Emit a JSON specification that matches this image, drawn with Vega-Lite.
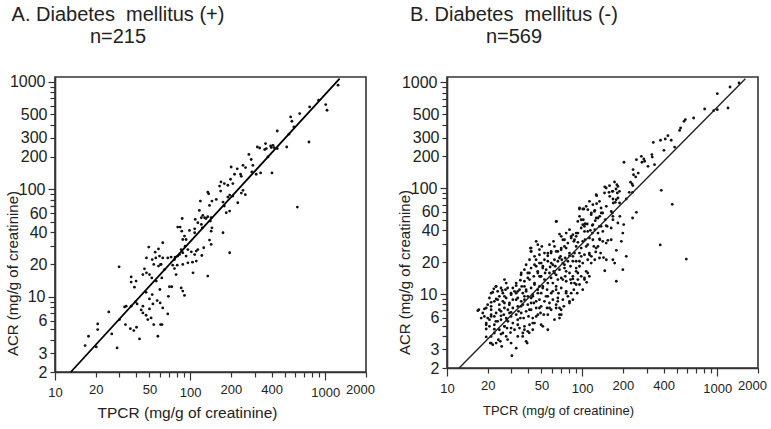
{
  "$schema": "https://vega.github.io/schema/vega-lite/v6.json",
  "background": "white",
  "padding": {"left": 4, "top": 3, "right": 5, "bottom": 3},
  "config": {
    "font": "Liberation Sans",
    "view": {"stroke": "#333", "strokeWidth": 1.6},
    "axis": {"grid": false, "domainColor": "#333", "domainWidth": 1.6, "tickColor": "#333", "tickWidth": 1.2, "labelColor": "#222", "titleColor": "#222", "titleFontWeight": "normal", "labelFlush": false, "labelOverlap": false}
  },
  "datasets": {
    "pos": [
      {"tpcr":49.4,"acr":29.0},{"tpcr":55.1,"acr":26.0},{"tpcr":58.3,"acr":27.9},{"tpcr":47.5,"acr":23.0},{"tpcr":52.4,"acr":22.2},{"tpcr":55.7,"acr":23.0},{"tpcr":59.3,"acr":23.9},{"tpcr":53.8,"acr":20.0},{"tpcr":58.3,"acr":19.3},{"tpcr":60.4,"acr":20.0},
      {"tpcr":29.8,"acr":19.0},{"tpcr":45.9,"acr":18.2},{"tpcr":47.5,"acr":16.7},{"tpcr":50.0,"acr":16.1},{"tpcr":52.0,"acr":15.0},{"tpcr":44.7,"acr":16.1},{"tpcr":36.6,"acr":15.3},{"tpcr":36.6,"acr":13.7},{"tpcr":39.8,"acr":14.0},{"tpcr":38.7,"acr":12.3},
      {"tpcr":56.1,"acr":14.0},{"tpcr":59.7,"acr":11.7},{"tpcr":47.2,"acr":11.0},{"tpcr":52.4,"acr":10.5},{"tpcr":50.0,"acr":9.56},{"tpcr":57.0,"acr":9.23},{"tpcr":60.0,"acr":8.78},{"tpcr":39.4,"acr":8.97},{"tpcr":40.5,"acr":8.59},{"tpcr":33.6,"acr":8.18},
      {"tpcr":32.7,"acr":8.06},{"tpcr":36.6,"acr":8.18},{"tpcr":44.7,"acr":8.18},{"tpcr":53.0,"acr":8.59},{"tpcr":50.0,"acr":7.72},{"tpcr":43.4,"acr":7.55},{"tpcr":51.4,"acr":6.37},{"tpcr":44.7,"acr":7.09},{"tpcr":47.2,"acr":6.74},{"tpcr":48.6,"acr":6.14},
      {"tpcr":25.0,"acr":7.24},{"tpcr":30.0,"acr":6.14},{"tpcr":20.7,"acr":5.60},{"tpcr":20.7,"acr":4.96},{"tpcr":33.2,"acr":5.52},{"tpcr":36.1,"acr":5.06},{"tpcr":38.3,"acr":4.85},{"tpcr":40.1,"acr":5.21},{"tpcr":53.8,"acr":5.52},{"tpcr":60.4,"acr":5.52},
      {"tpcr":26.3,"acr":4.52},{"tpcr":17.7,"acr":4.30},{"tpcr":42.2,"acr":4.06},{"tpcr":57.7,"acr":4.30},{"tpcr":16.7,"acr":3.52},{"tpcr":20.2,"acr":3.42},{"tpcr":28.8,"acr":3.35},
      {"tpcr":201,"acr":161},{"tpcr":223,"acr":155},{"tpcr":213,"acr":138},{"tpcr":236,"acr":138},{"tpcr":199,"acr":124},{"tpcr":169,"acr":117},{"tpcr":179,"acr":113},{"tpcr":165,"acr":107},{"tpcr":190,"acr":109},{"tpcr":207,"acr":113},
      {"tpcr":168,"acr":96.2},{"tpcr":196,"acr":88.3},{"tpcr":135,"acr":94.2},{"tpcr":137,"acr":90.9},{"tpcr":156,"acr":80.4},{"tpcr":119,"acr":77.6},{"tpcr":145,"acr":77.6},{"tpcr":190,"acr":84.6},{"tpcr":175,"acr":76.0},{"tpcr":207,"acr":86.4},
      {"tpcr":225,"acr":74.9},{"tpcr":179,"acr":69.8},{"tpcr":185,"acr":60.5},{"tpcr":196,"acr":62.7},{"tpcr":139,"acr":70.8},{"tpcr":117,"acr":63.6},{"tpcr":124,"acr":57.1},{"tpcr":121,"acr":54.3},{"tpcr":128,"acr":54.3},{"tpcr":131,"acr":53.5},
      {"tpcr":135,"acr":55.5},{"tpcr":143,"acr":54.3},{"tpcr":141,"acr":50.6},{"tpcr":109,"acr":52.4},{"tpcr":87.3,"acr":53.5},{"tpcr":80.9,"acr":44.5},{"tpcr":84.3,"acr":44.5},{"tpcr":86.7,"acr":40.8},{"tpcr":90.8,"acr":36.7},{"tpcr":88.2,"acr":34.1},
      {"tpcr":93.3,"acr":34.1},{"tpcr":98.8,"acr":41.4},{"tpcr":108,"acr":42.9},{"tpcr":108,"acr":39.4},{"tpcr":114,"acr":48.8},{"tpcr":121,"acr":47.1},{"tpcr":123,"acr":43.8},{"tpcr":145,"acr":43.8},{"tpcr":143,"acr":40.8},{"tpcr":175,"acr":39.4},
      {"tpcr":139,"acr":33.7},{"tpcr":143,"acr":30.7},{"tpcr":126,"acr":28.6},{"tpcr":114,"acr":27.5},{"tpcr":111,"acr":26.6},{"tpcr":108,"acr":24.7},{"tpcr":102,"acr":26.2},{"tpcr":91.8,"acr":29.6},{"tpcr":96.2,"acr":27.5},{"tpcr":88.2,"acr":25.7},
      {"tpcr":80.9,"acr":23.9},{"tpcr":76.5,"acr":22.2},{"tpcr":72.3,"acr":23.4},{"tpcr":68.3,"acr":23.0},{"tpcr":74.3,"acr":19.7},{"tpcr":80.2,"acr":19.7},{"tpcr":76.5,"acr":18.3},{"tpcr":88.2,"acr":20.0},{"tpcr":96.2,"acr":20.7},{"tpcr":104,"acr":21.0},
      {"tpcr":111,"acr":21.5},{"tpcr":93.3,"acr":23.9},{"tpcr":122,"acr":24.2},{"tpcr":62.7,"acr":31.8},{"tpcr":61.0,"acr":20.0},{"tpcr":61.7,"acr":15.0},{"tpcr":70.3,"acr":12.4},{"tpcr":73.1,"acr":12.4},{"tpcr":85.8,"acr":12.1},{"tpcr":88.2,"acr":11.3},
      {"tpcr":90.8,"acr":10.3},{"tpcr":69.0,"acr":10.1},{"tpcr":135,"acr":15.6},{"tpcr":105,"acr":16.7},{"tpcr":196,"acr":25.7},{"tpcr":62.7,"acr":7.89},{"tpcr":68.3,"acr":6.94},{"tpcr":61.9,"acr":5.52},{"tpcr":62.7,"acr":23.0},{"tpcr":64.5,"acr":17.9},
      {"tpcr":78.7,"acr":16.1},{"tpcr":83.4,"acr":24.7},{"tpcr":85.8,"acr":27.5},{"tpcr":77.4,"acr":23.4},
      {"tpcr":1242,"acr":928},{"tpcr":1007,"acr":613},{"tpcr":1030,"acr":543},{"tpcr":893,"acr":673},{"tpcr":766,"acr":583},{"tpcr":646,"acr":505},{"tpcr":554,"acr":471},{"tpcr":566,"acr":429},{"tpcr":586,"acr":380},{"tpcr":538,"acr":325},
      {"tpcr":441,"acr":348},{"tpcr":757,"acr":275},{"tpcr":518,"acr":247},{"tpcr":441,"acr":239},{"tpcr":410,"acr":256},{"tpcr":398,"acr":244},{"tpcr":361,"acr":266},{"tpcr":366,"acr":239},{"tpcr":356,"acr":234},{"tpcr":314,"acr":247},
      {"tpcr":327,"acr":242},{"tpcr":376,"acr":200},{"tpcr":272,"acr":211},{"tpcr":283,"acr":189},{"tpcr":246,"acr":167},{"tpcr":257,"acr":159},{"tpcr":291,"acr":167},{"tpcr":239,"acr":132},{"tpcr":286,"acr":145},{"tpcr":308,"acr":138},
      {"tpcr":332,"acr":142},{"tpcr":403,"acr":142},{"tpcr":246,"acr":97.7},{"tpcr":239,"acr":92.2},{"tpcr":256,"acr":89.0},{"tpcr":621,"acr":68.3},{"tpcr":394,"acr":253},{"tpcr":417,"acr":244}
    ],
    "neg": [
      {"tpcr":1448,"acr":988},{"tpcr":1242,"acr":905},{"tpcr":1000,"acr":783},{"tpcr":1200,"acr":573},{"tpcr":1000,"acr":553},{"tpcr":940,"acr":541},{"tpcr":806,"acr":561},{"tpcr":668,"acr":461},{"tpcr":580,"acr":445},{"tpcr":567,"acr":429},
      {"tpcr":526,"acr":352},{"tpcr":535,"acr":371},{"tpcr":456,"acr":284},{"tpcr":431,"acr":314},{"tpcr":412,"acr":292},{"tpcr":380,"acr":284},{"tpcr":336,"acr":271},{"tpcr":403,"acr":228},{"tpcr":483,"acr":245},{"tpcr":328,"acr":208},
      {"tpcr":330,"acr":197},{"tpcr":343,"acr":167},{"tpcr":274,"acr":200},{"tpcr":286,"acr":189},{"tpcr":277,"acr":176},{"tpcr":307,"acr":161},{"tpcr":290,"acr":180},{"tpcr":385,"acr":95.5},{"tpcr":464,"acr":70.4},{"tpcr":378,"acr":29.1},
      {"tpcr":590,"acr":21.4},
      {"tpcr":252,"acr":186},{"tpcr":238,"acr":150},{"tpcr":249,"acr":128},{"tpcr":240,"acr":134},{"tpcr":260,"acr":139},{"tpcr":204,"acr":176},{"tpcr":228,"acr":114},{"tpcr":237,"acr":106},{"tpcr":236,"acr":91.4},{"tpcr":223,"acr":91.4},
      {"tpcr":234,"acr":110},{"tpcr":184,"acr":104},{"tpcr":178,"acr":98.3},{"tpcr":189,"acr":93.4},{"tpcr":182,"acr":90.1},{"tpcr":167,"acr":93.4},{"tpcr":158,"acr":91.4},{"tpcr":147,"acr":103},{"tpcr":169,"acr":79.1},{"tpcr":170,"acr":72.5},
      {"tpcr":176,"acr":73.6},{"tpcr":184,"acr":80.8},{"tpcr":212,"acr":79.1},{"tpcr":252,"acr":59.2},{"tpcr":236,"acr":52.3},{"tpcr":190,"acr":54.2},{"tpcr":203,"acr":45.3},{"tpcr":200,"acr":37.7},{"tpcr":195,"acr":31.5},{"tpcr":169,"acr":50.4},
      {"tpcr":164,"acr":42.1},{"tpcr":164,"acr":32.6},{"tpcr":179,"acr":25.9},{"tpcr":174,"acr":19.6},{"tpcr":179,"acr":13.2},{"tpcr":200,"acr":17.0},{"tpcr":212,"acr":22.7},{"tpcr":167,"acr":58.3},{"tpcr":160,"acr":83.8},
      {"tpcr":151,"acr":67.4},{"tpcr":138,"acr":65.0},{"tpcr":142,"acr":58.3},{"tpcr":135,"acr":54.2},{"tpcr":131,"acr":52.3},{"tpcr":128,"acr":71.4},{"tpcr":124,"acr":61.8},{"tpcr":117,"acr":58.3},{"tpcr":128,"acr":85.1},{"tpcr":125,"acr":49.4},
      {"tpcr":119,"acr":44.6},{"tpcr":124,"acr":40.6},{"tpcr":115,"acr":40.0},{"tpcr":109,"acr":45.9},{"tpcr":110,"acr":39.1},{"tpcr":104,"acr":43.6},{"tpcr":98.4,"acr":42.1},{"tpcr":102,"acr":50.4},{"tpcr":105,"acr":46.2},{"tpcr":95.6,"acr":65.0},
      {"tpcr":103,"acr":63.6},{"tpcr":95.6,"acr":54.2},{"tpcr":101,"acr":31.5},{"tpcr":98.4,"acr":27.2},{"tpcr":105,"acr":32.6},{"tpcr":110,"acr":29.3},{"tpcr":122,"acr":28.2},{"tpcr":126,"acr":25.0},{"tpcr":119,"acr":37.7},{"tpcr":110,"acr":15.8},
      {"tpcr":113,"acr":14.7},{"tpcr":104,"acr":14.2},{"tpcr":108,"acr":12.9},{"tpcr":137,"acr":24.4},{"tpcr":144,"acr":22.1},{"tpcr":147,"acr":16.6},{"tpcr":142,"acr":31.5},{"tpcr":131,"acr":37.7},{"tpcr":153,"acr":43.6},{"tpcr":148,"acr":50.4},
      {"tpcr":138,"acr":43.6},{"tpcr":135,"acr":32.6},{"tpcr":93.0,"acr":37.7},{"tpcr":90.3,"acr":35.1},{"tpcr":93.0,"acr":30.8},{"tpcr":98.4,"acr":22.7},{"tpcr":90.3,"acr":20.4},{"tpcr":95.6,"acr":18.3},{"tpcr":101,"acr":19.6},{"tpcr":87.8,"acr":24.4},
      {"tpcr":93.0,"acr":15.8},{"tpcr":98.4,"acr":14.7},{"tpcr":93.0,"acr":13.7},{"tpcr":91.9,"acr":10.2},{"tpcr":101,"acr":11.0},{"tpcr":95.6,"acr":12.3},{"tpcr":87.8,"acr":12.7},{"tpcr":90.3,"acr":17.6},{"tpcr":151,"acr":21.1},{"tpcr":117,"acr":22.7},
      {"tpcr":124,"acr":21.1},{"tpcr":110,"acr":21.1},{"tpcr":104,"acr":23.5},{"tpcr":113,"acr":24.4},{"tpcr":120,"acr":32.6},{"tpcr":131,"acr":28.2},
      {"tpcr":64.6,"acr":48.6},{"tpcr":68.0,"acr":36.9},{"tpcr":70.0,"acr":35.1},{"tpcr":72.0,"acr":32.6},{"tpcr":76.2,"acr":37.7},{"tpcr":80.6,"acr":40.6},{"tpcr":83.0,"acr":33.8},{"tpcr":85.4,"acr":36.4},{"tpcr":86.8,"acr":31.5},{"tpcr":78.4,"acr":30.3},
      {"tpcr":74.0,"acr":28.2},{"tpcr":70.0,"acr":27.2},{"tpcr":66.1,"acr":25.3},{"tpcr":62.4,"acr":28.2},{"tpcr":59.0,"acr":25.3},{"tpcr":55.7,"acr":24.4},{"tpcr":69.2,"acr":22.7},{"tpcr":74.9,"acr":21.9},{"tpcr":80.6,"acr":24.4},{"tpcr":85.4,"acr":22.7},
      {"tpcr":78.4,"acr":20.4},{"tpcr":72.0,"acr":19.6},{"tpcr":66.1,"acr":20.4},{"tpcr":62.4,"acr":21.1},{"tpcr":59.0,"acr":19.6},{"tpcr":55.7,"acr":20.4},{"tpcr":52.6,"acr":21.1},{"tpcr":51.2,"acr":18.3},{"tpcr":54.2,"acr":17.0},{"tpcr":57.3,"acr":15.8},
      {"tpcr":61.7,"acr":16.4},{"tpcr":64.2,"acr":15.2},{"tpcr":68.0,"acr":17.0},{"tpcr":74.0,"acr":17.6},{"tpcr":80.6,"acr":15.8},{"tpcr":85.4,"acr":14.7},{"tpcr":83.0,"acr":12.7},{"tpcr":76.2,"acr":13.2},{"tpcr":70.0,"acr":14.2},{"tpcr":66.1,"acr":13.7},
      {"tpcr":60.7,"acr":12.7},{"tpcr":55.7,"acr":12.7},{"tpcr":52.6,"acr":13.7},{"tpcr":49.7,"acr":14.7},{"tpcr":51.2,"acr":11.8},{"tpcr":55.0,"acr":11.0},{"tpcr":59.0,"acr":10.2},{"tpcr":64.2,"acr":11.0},{"tpcr":70.0,"acr":11.4},{"tpcr":76.2,"acr":10.6},
      {"tpcr":83.0,"acr":10.2},{"tpcr":78.4,"acr":9.51},{"tpcr":72.0,"acr":8.84},{"tpcr":66.1,"acr":9.17},{"tpcr":60.7,"acr":8.84},{"tpcr":55.7,"acr":9.51},{"tpcr":52.6,"acr":8.53},{"tpcr":49.7,"acr":7.65},{"tpcr":55.0,"acr":7.38},{"tpcr":59.0,"acr":7.11},
      {"tpcr":64.2,"acr":7.38},{"tpcr":70.0,"acr":6.38},{"tpcr":68.0,"acr":5.93},{"tpcr":55.7,"acr":6.38},{"tpcr":62.4,"acr":5.72},{"tpcr":51.2,"acr":4.95},{"tpcr":55.7,"acr":4.60},{"tpcr":80.6,"acr":8.23},{"tpcr":85.4,"acr":8.84},{"tpcr":86.8,"acr":11.0},
      {"tpcr":63.2,"acr":18.3},{"tpcr":70.7,"acr":21.1},{"tpcr":52.6,"acr":24.4},{"tpcr":57.3,"acr":29.3},{"tpcr":61.4,"acr":31.5},{"tpcr":50.3,"acr":28.2},{"tpcr":85.4,"acr":20.4},{"tpcr":82.0,"acr":18.3},{"tpcr":74.9,"acr":14.7},{"tpcr":53.2,"acr":15.8},
      {"tpcr":57.9,"acr":18.0},{"tpcr":49.7,"acr":10.2},{"tpcr":64.2,"acr":7.93},{"tpcr":52.0,"acr":6.38},{"tpcr":82.0,"acr":13.7},{"tpcr":66.8,"acr":10.2},{"tpcr":73.2,"acr":7.65},{"tpcr":68.0,"acr":7.38},{"tpcr":57.3,"acr":8.23},
      {"tpcr":41.4,"acr":27.2},{"tpcr":41.9,"acr":25.3},{"tpcr":45.7,"acr":31.5},{"tpcr":47.0,"acr":29.3},{"tpcr":48.3,"acr":26.3},{"tpcr":44.4,"acr":22.7},{"tpcr":40.8,"acr":21.1},{"tpcr":38.5,"acr":18.9},{"tpcr":35.4,"acr":15.8},{"tpcr":37.4,"acr":17.0},
      {"tpcr":39.6,"acr":15.8},{"tpcr":41.9,"acr":17.6},{"tpcr":45.7,"acr":18.3},{"tpcr":48.3,"acr":19.6},{"tpcr":47.0,"acr":15.8},{"tpcr":43.9,"acr":14.7},{"tpcr":40.8,"acr":13.7},{"tpcr":37.4,"acr":13.2},{"tpcr":34.9,"acr":13.5},{"tpcr":32.5,"acr":12.7},
      {"tpcr":30.7,"acr":11.4},{"tpcr":29.8,"acr":10.2},{"tpcr":31.6,"acr":10.6},{"tpcr":34.4,"acr":11.0},{"tpcr":36.4,"acr":10.2},{"tpcr":38.5,"acr":11.0},{"tpcr":41.9,"acr":11.4},{"tpcr":44.4,"acr":12.3},{"tpcr":48.3,"acr":11.8},{"tpcr":47.0,"acr":10.2},
      {"tpcr":43.1,"acr":9.86},{"tpcr":39.6,"acr":9.51},{"tpcr":37.4,"acr":8.84},{"tpcr":35.4,"acr":8.53},{"tpcr":33.4,"acr":9.17},{"tpcr":30.7,"acr":8.84},{"tpcr":29.0,"acr":8.23},{"tpcr":28.2,"acr":7.11},{"tpcr":30.7,"acr":7.38},{"tpcr":33.4,"acr":7.65},
      {"tpcr":36.4,"acr":7.93},{"tpcr":39.6,"acr":7.93},{"tpcr":41.9,"acr":8.23},{"tpcr":45.7,"acr":8.53},{"tpcr":48.3,"acr":8.84},{"tpcr":45.7,"acr":7.38},{"tpcr":41.9,"acr":7.11},{"tpcr":38.5,"acr":6.86},{"tpcr":35.4,"acr":6.62},{"tpcr":32.5,"acr":6.38},
      {"tpcr":29.8,"acr":6.15},{"tpcr":28.2,"acr":5.52},{"tpcr":30.7,"acr":5.32},{"tpcr":33.4,"acr":5.72},{"tpcr":36.9,"acr":5.93},{"tpcr":40.1,"acr":6.15},{"tpcr":43.1,"acr":5.93},{"tpcr":47.0,"acr":6.38},{"tpcr":44.4,"acr":5.32},{"tpcr":40.8,"acr":5.13},
      {"tpcr":37.4,"acr":4.95},{"tpcr":34.4,"acr":4.77},{"tpcr":31.6,"acr":4.60},{"tpcr":29.8,"acr":4.77},{"tpcr":36.4,"acr":4.28},{"tpcr":39.6,"acr":4.44},{"tpcr":43.1,"acr":4.60},{"tpcr":33.4,"acr":3.98},{"tpcr":38.5,"acr":3.57},{"tpcr":39.2,"acr":3.44},
      {"tpcr":40.6,"acr":4.30},{"tpcr":49.2,"acr":6.62},{"tpcr":45.7,"acr":6.15},{"tpcr":30.2,"acr":2.61},{"tpcr":49.7,"acr":5.13},{"tpcr":43.9,"acr":8.23},{"tpcr":49.2,"acr":14.7},{"tpcr":32.5,"acr":10.2},{"tpcr":33.8,"acr":6.86},{"tpcr":29.0,"acr":6.62},
      {"tpcr":41.9,"acr":9.17},{"tpcr":35.7,"acr":11.8},
      {"tpcr":17.2,"acr":7.11},{"tpcr":18.4,"acr":6.62},{"tpcr":19.5,"acr":7.38},{"tpcr":21.2,"acr":7.65},{"tpcr":22.4,"acr":8.53},{"tpcr":23.1,"acr":8.97},{"tpcr":24.4,"acr":9.51},{"tpcr":25.9,"acr":10.2},{"tpcr":27.1,"acr":11.0},{"tpcr":23.7,"acr":10.6},
      {"tpcr":25.1,"acr":11.4},{"tpcr":26.6,"acr":13.7},{"tpcr":27.4,"acr":12.7},{"tpcr":21.2,"acr":10.2},{"tpcr":22.2,"acr":11.2},{"tpcr":23.1,"acr":11.8},{"tpcr":20.6,"acr":9.17},{"tpcr":24.4,"acr":7.93},{"tpcr":25.9,"acr":8.53},{"tpcr":27.4,"acr":9.17},
      {"tpcr":26.6,"acr":7.38},{"tpcr":25.1,"acr":6.86},{"tpcr":23.1,"acr":6.62},{"tpcr":21.2,"acr":6.38},{"tpcr":20.0,"acr":5.93},{"tpcr":19.5,"acr":5.32},{"tpcr":20.6,"acr":4.95},{"tpcr":22.4,"acr":5.13},{"tpcr":23.7,"acr":5.52},{"tpcr":25.1,"acr":5.72},
      {"tpcr":27.4,"acr":5.93},{"tpcr":26.6,"acr":4.95},{"tpcr":24.4,"acr":4.60},{"tpcr":22.4,"acr":4.28},{"tpcr":21.2,"acr":3.98},{"tpcr":19.5,"acr":4.67},{"tpcr":19.5,"acr":3.93},{"tpcr":20.9,"acr":3.44},{"tpcr":21.8,"acr":3.32},{"tpcr":24.0,"acr":3.70},
      {"tpcr":25.9,"acr":4.28},{"tpcr":27.4,"acr":3.98},{"tpcr":20.6,"acr":5.72},{"tpcr":22.4,"acr":6.15},{"tpcr":18.9,"acr":6.15},{"tpcr":17.9,"acr":5.93},{"tpcr":21.2,"acr":7.11},{"tpcr":26.3,"acr":6.38},{"tpcr":23.1,"acr":3.44},{"tpcr":24.8,"acr":3.57},
      {"tpcr":27.8,"acr":4.77},{"tpcr":25.4,"acr":3.20},{"tpcr":26.6,"acr":8.23},
      {"tpcr":173.6,"acr":114.5},{"tpcr":180.7,"acr":108},{"tpcr":159.4,"acr":105.7},{"tpcr":150.6,"acr":100.5},{"tpcr":168.8,"acr":93.4},{"tpcr":146.4,"acr":90.1},{"tpcr":127,"acr":86.9},{"tpcr":134.4,"acr":75.2},{"tpcr":113.3,"acr":75.2},{"tpcr":120,"acr":69.9},
      {"tpcr":107.1,"acr":67.4},{"tpcr":95.5,"acr":63.6},{"tpcr":101.1,"acr":63.6},{"tpcr":110.2,"acr":62.7},{"tpcr":123.4,"acr":60.4},{"tpcr":138.3,"acr":58.3},{"tpcr":164,"acr":60.4},{"tpcr":178.6,"acr":77.9},{"tpcr":189.1,"acr":72.5},{"tpcr":168.8,"acr":54.2},
      {"tpcr":127,"acr":52.3},{"tpcr":116.6,"acr":56.2},{"tpcr":98.3,"acr":50.4},{"tpcr":92.9,"acr":48.6},{"tpcr":64.2,"acr":48.6},{"tpcr":101.1,"acr":45.2},{"tpcr":120,"acr":45.2},{"tpcr":134.4,"acr":43.6},{"tpcr":150.6,"acr":44.3},{"tpcr":183.8,"acr":46.9},
      {"tpcr":142.3,"acr":39.1},{"tpcr":104.1,"acr":39.1},{"tpcr":90.3,"acr":37.7},{"tpcr":82.9,"acr":35.1},{"tpcr":74,"acr":32.6},{"tpcr":87.8,"acr":32.6},{"tpcr":113.3,"acr":33.8},{"tpcr":134.4,"acr":33.1},{"tpcr":155,"acr":32.2},{"tpcr":150.6,"acr":30.3},
      {"tpcr":127,"acr":27.2},{"tpcr":107.1,"acr":28.2},{"tpcr":90.3,"acr":28.2},{"tpcr":76.1,"acr":27.2},{"tpcr":69.9,"acr":26.2},{"tpcr":64.2,"acr":25.3},{"tpcr":58.9,"acr":24.4},{"tpcr":55.7,"acr":23.0},{"tpcr":67.9,"acr":21.9},{"tpcr":80.6,"acr":23.0},
      {"tpcr":95.5,"acr":24.4},{"tpcr":113.3,"acr":23.5},{"tpcr":134.4,"acr":21.9},{"tpcr":168.8,"acr":21.1},{"tpcr":116.6,"acr":19.6},{"tpcr":95.5,"acr":20.4},{"tpcr":74,"acr":18.9},{"tpcr":60.6,"acr":18.9},{"tpcr":62.4,"acr":15.8},{"tpcr":76.1,"acr":16.4},
      {"tpcr":90.3,"acr":16.4},{"tpcr":107.1,"acr":16.4},{"tpcr":58.9,"acr":14.2},{"tpcr":71.9,"acr":13.7},{"tpcr":85.3,"acr":13.9},{"tpcr":104.1,"acr":13.7},{"tpcr":90.3,"acr":12.3},{"tpcr":64.2,"acr":11.8},{"tpcr":60.6,"acr":10.6},{"tpcr":76.1,"acr":10.2},
      {"tpcr":54.1,"acr":9.51},{"tpcr":66.0,"acr":8.53},{"tpcr":80.6,"acr":8.53},{"tpcr":57.3,"acr":7.38},{"tpcr":69.9,"acr":7.11},{"tpcr":67.9,"acr":6.38},
      {"tpcr":41.9,"acr":27.2},{"tpcr":41.9,"acr":25.3},{"tpcr":48.3,"acr":23.5},{"tpcr":45.6,"acr":21.1},{"tpcr":49.7,"acr":19.6},{"tpcr":44.4,"acr":18.9},{"tpcr":51.1,"acr":17.6},{"tpcr":46.9,"acr":16.4},{"tpcr":40.7,"acr":15.8},{"tpcr":35.3,"acr":15.2},
      {"tpcr":39.6,"acr":14.2},{"tpcr":48.3,"acr":14.7},{"tpcr":44.4,"acr":12.7},{"tpcr":37.4,"acr":11.8},{"tpcr":32.5,"acr":12.0},{"tpcr":28.1,"acr":11.4},{"tpcr":25.6,"acr":10.8},{"tpcr":23.0,"acr":11.8},{"tpcr":21.8,"acr":10.4},{"tpcr":29.8,"acr":9.86},
      {"tpcr":33.4,"acr":10.6},{"tpcr":38.5,"acr":10.6},{"tpcr":46.9,"acr":11.0},{"tpcr":51.1,"acr":11.4},{"tpcr":43.1,"acr":9.51},{"tpcr":37.4,"acr":9.51},{"tpcr":32.5,"acr":8.84},{"tpcr":26.6,"acr":9.51},{"tpcr":23.7,"acr":8.84},{"tpcr":21.2,"acr":8.35},
      {"tpcr":20.0,"acr":7.93},{"tpcr":35.3,"acr":7.65},{"tpcr":28.9,"acr":7.93},{"tpcr":24.4,"acr":7.11},{"tpcr":18.9,"acr":7.23},{"tpcr":16.9,"acr":6.96},{"tpcr":21.2,"acr":6.15},{"tpcr":25.1,"acr":6.22},{"tpcr":29.8,"acr":6.72},{"tpcr":40.7,"acr":7.11},
      {"tpcr":48.3,"acr":7.38},{"tpcr":34.9,"acr":5.93},{"tpcr":27.7,"acr":5.70},{"tpcr":23.0,"acr":5.52},{"tpcr":19.5,"acr":5.13},{"tpcr":22.4,"acr":4.66},{"tpcr":26.6,"acr":4.95},{"tpcr":33.4,"acr":5.13},{"tpcr":43.1,"acr":5.32},{"tpcr":37.4,"acr":4.60},
      {"tpcr":29.5,"acr":4.32},{"tpcr":25.1,"acr":4.18},{"tpcr":36.3,"acr":3.98},{"tpcr":28.1,"acr":3.71},{"tpcr":32.5,"acr":3.08},{"tpcr":29.8,"acr":3.44},{"tpcr":21.2,"acr":3.44}
    ],
    "posLine": [{"tpcr":13.1,"acr":2},{"tpcr":1276,"acr":1069}],
    "negLine": [{"tpcr":12.3,"acr":2},{"tpcr":1613,"acr":1085}]
  },
  "bounds": "flush",
  "spacing": 81,
  "hconcat": [
    {
      "width": 311,
      "height": 295,
      "title": {"text": ["A. Diabetes\u00a0 mellitus (+)", "n=215"], "anchor": "start", "frame": "group", "align": "center", "dx": 63, "fontSize": 20, "fontWeight": "normal", "lineHeight": 22, "offset": 27, "color": "#222"},
      "layer": [
        {
          "data": {"name": "pos"},
          "mark": {"type": "point", "filled": true, "size": 8, "color": "#111", "opacity": 1},
          "encoding": {
            "x": {"field": "tpcr", "type": "quantitative", "scale": {"type": "log", "domain": [10, 2000], "nice": false},
              "axis": {"title": "TPCR (mg/g of creatinine)", "values": [10,20,30,40,50,60,70,80,90,100,200,300,400,500,600,700,800,900,1000,2000],
                "labelExpr": "indexof([10,20,50,100,200,400,1000,2000], datum.value) >= 0 ? '' + datum.value : ''",
                "tickSize": {"condition": {"test": "datum.value == 10 || datum.value == 100 || datum.value == 1000", "value": 8}, "value": 5},
                "labelOffset": {"condition": {"test": "datum.value == 2000", "value": -6}, "value": 0},
                "labelFontSize": 13, "labelPadding": 6, "titleFontSize": 15.5, "titleX": 132, "titleY": 40, "titleBaseline": "middle"}},
            "y": {"field": "acr", "type": "quantitative", "scale": {"type": "log", "domain": [2, 1106], "nice": false},
              "axis": {"title": "ACR (mg/g of creatinine)", "values": [2,3,4,5,6,7,8,9,10,20,30,40,50,60,70,80,90,100,200,300,400,500,600,700,800,900,1000],
                "labelExpr": "indexof([2,3,6,10,20,40,60,100,200,300,500,1000], datum.value) >= 0 ? '' + datum.value : ''",
                "tickSize": {"condition": {"test": "datum.value == 10 || datum.value == 100 || datum.value == 1000", "value": 7}, "value": 5},
                "labelFontSize": 16, "labelPadding": 3, "titleFontSize": 15, "titleX": -43, "titleY": 196, "titleBaseline": "middle"}}
          }
        },
        {
          "data": {"name": "posLine"},
          "mark": {"type": "line", "color": "#000", "strokeWidth": 1.8},
          "encoding": {"x": {"field": "tpcr", "type": "quantitative"}, "y": {"field": "acr", "type": "quantitative"}}
        }
      ]
    },
    {
      "width": 311,
      "height": 291,
      "title": {"text": ["B. Diabetes\u00a0 mellitus (-)", "n=569"], "anchor": "start", "frame": "group", "align": "center", "dx": 67, "fontSize": 20, "fontWeight": "normal", "lineHeight": 22, "offset": 27, "color": "#222"},
      "layer": [
        {
          "data": {"name": "neg"},
          "mark": {"type": "point", "filled": true, "size": 8, "color": "#111", "opacity": 1},
          "encoding": {
            "x": {"field": "tpcr", "type": "quantitative", "scale": {"type": "log", "domain": [10, 2000], "nice": false},
              "axis": {"title": "TPCR (mg/g of creatinine)", "values": [10,20,30,40,50,60,70,80,90,100,200,300,400,500,600,700,800,900,1000,2000],
                "labelExpr": "indexof([10,20,50,100,200,400,1000,2000], datum.value) >= 0 ? '' + datum.value : ''",
                "tickSize": {"condition": {"test": "datum.value == 10 || datum.value == 100 || datum.value == 1000", "value": 8}, "value": 5},
                "labelOffset": {"condition": {"test": "datum.value == 2000", "value": -6}, "value": 0},
                "labelFontSize": 13, "labelPadding": 6, "titleFontSize": 13, "titleX": 111, "titleY": 42, "titleBaseline": "middle"}},
            "y": {"field": "acr", "type": "quantitative", "scale": {"type": "log", "domain": [2, 1125], "nice": false},
              "axis": {"title": "ACR (mg/g of creatinine)", "values": [2,3,4,5,6,7,8,9,10,20,30,40,50,60,70,80,90,100,200,300,400,500,600,700,800,900,1000],
                "labelExpr": "indexof([2,3,6,10,20,40,60,100,200,300,500,1000], datum.value) >= 0 ? '' + datum.value : ''",
                "tickSize": {"condition": {"test": "datum.value == 10 || datum.value == 100 || datum.value == 1000", "value": 7}, "value": 5},
                "labelFontSize": 16, "labelPadding": 3, "titleFontSize": 15, "titleX": -43, "titleY": 195, "titleBaseline": "middle"}}
          }
        },
        {
          "data": {"name": "negLine"},
          "mark": {"type": "line", "color": "#222", "strokeWidth": 1.4},
          "encoding": {"x": {"field": "tpcr", "type": "quantitative"}, "y": {"field": "acr", "type": "quantitative"}}
        }
      ]
    }
  ]
}
